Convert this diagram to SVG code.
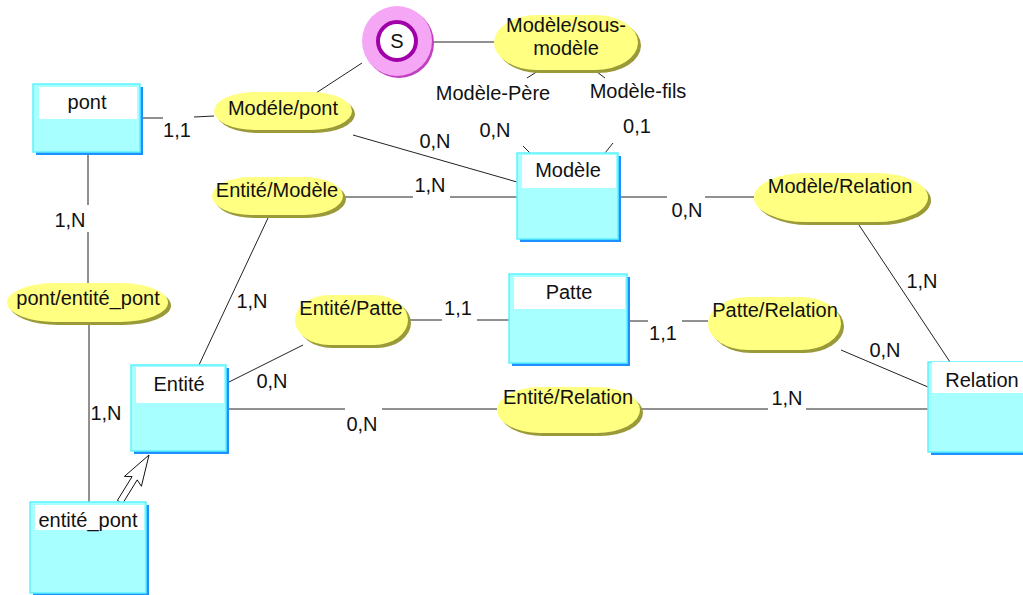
<svg xmlns="http://www.w3.org/2000/svg" width="1023" height="595" viewBox="0 0 1023 595">
<style>
text{font-family:"Liberation Sans",Arial,sans-serif;font-size:20px;fill:#111;text-anchor:middle}
.shadow{fill:#1e90ff}
.box{fill:#a8ffff;stroke:#5ef2ff;stroke-width:1.5}
.title{fill:#ffffff}
.eshadow{fill:#9a9a38}
.ell{fill:#ffff82}
.conn{stroke:#222;stroke-width:1;fill:none}
</style>
<rect width="1023" height="595" fill="#ffffff"/>

<g id="connectors" class="conn">
  <path d="M433,42 H494"/>
  <path d="M362,63 L316,93"/>
  <path d="M538,71 L527,78"/>
  <path d="M597,72 L605,78"/>
  <path d="M523,146 L530,153"/>
  <path d="M613,143 L605,153"/>
  <path d="M141,118 L163,118 M194,117 L214,116"/>
  <path d="M353,135 L517,182"/>
  <path d="M343,197 H413 M450,197 H517"/>
  <path d="M618,197 H667 M705,197 H754"/>
  <path d="M857,222 L950,362"/>
  <path d="M88,152 V205 M88,232 V283"/>
  <path d="M89,322 V502"/>
  <path d="M268,218 L199,365"/>
  <path d="M303,345 L227,383"/>
  <path d="M408,320 H442 M477,320 H509"/>
  <path d="M630,321 H648 M682,321 H708"/>
  <path d="M841,350 L928,387"/>
  <path d="M226,409 H345 M382,409 H497"/>
  <path d="M640,409 H768 M806,409 H928"/>
  <path d="M117.4,500.4 L132.1,476.6 L124.4,476.4 L149,455 L141.4,486.3 L137.2,479.9 L122.6,503.6 Z" fill="#ffffff" stroke="#111" stroke-linejoin="miter"/>
</g>

<g id="labels">
  <text x="177" y="137">1,1</text>
  <text x="435" y="148">0,N</text>
  <text x="430" y="192">1,N</text>
  <text x="687" y="217">0,N</text>
  <text x="922" y="288">1,N</text>
  <text x="70" y="227">1,N</text>
  <text x="106" y="420">1,N</text>
  <text x="252" y="308">1,N</text>
  <text x="272" y="388">0,N</text>
  <text x="458" y="315">1,1</text>
  <text x="663" y="340">1,1</text>
  <text x="885" y="357">0,N</text>
  <text x="362" y="431">0,N</text>
  <text x="787" y="405">1,N</text>
  <text x="495" y="137">0,N</text>
  <text x="637" y="133">0,1</text>
  <text x="493" y="100">Modèle-Père</text>
  <text x="638" y="98">Modèle-fils</text>
</g>

<g id="node-S">
  <circle cx="399" cy="43" r="35" fill="#c040c0"/>
  <circle cx="397" cy="41" r="35" fill="#f5a6f5"/>
  <circle cx="397" cy="41" r="19" fill="#ffffff" stroke="#a000a8" stroke-width="4"/>
  <text x="397" y="48">S</text>
</g>

<g id="rel-modele-sous-modele">
  <rect x="497" y="18" width="144" height="55" rx="43" ry="27.5" class="eshadow"/>
  <rect x="494" y="15" width="144" height="55" rx="43" ry="27.5" class="ell"/>
  <text x="566" y="32">Modèle/sous-</text>
  <text x="566" y="55">modèle</text>
</g>

<g id="rel-modele-pont">
  <rect x="217" y="95" width="138" height="38" rx="41" ry="19" class="eshadow"/>
  <rect x="214" y="92" width="138" height="38" rx="41" ry="19" class="ell"/>
  <text x="283" y="115">Modéle/pont</text>
</g>

<g id="rel-entite-modele">
  <rect x="215" y="180" width="131" height="38" rx="39" ry="19" class="eshadow"/>
  <rect x="212" y="177" width="131" height="38" rx="39" ry="19" class="ell"/>
  <text x="277" y="197">Entité/Modèle</text>
</g>

<g id="rel-pont-entite-pont">
  <rect x="10" y="286" width="161" height="39" rx="48" ry="19.5" class="eshadow"/>
  <rect x="7" y="283" width="161" height="39" rx="48" ry="19.5" class="ell"/>
  <text x="88" y="305">pont/entité_pont</text>
</g>

<g id="rel-entite-patte">
  <rect x="298" y="298" width="113" height="50" rx="34" ry="25" class="eshadow"/>
  <rect x="295" y="295" width="113" height="50" rx="34" ry="25" class="ell"/>
  <text x="351" y="315">Entité/Patte</text>
</g>

<g id="rel-patte-relation">
  <rect x="711" y="300" width="133" height="53" rx="40" ry="26.5" class="eshadow"/>
  <rect x="708" y="297" width="133" height="53" rx="40" ry="26.5" class="ell"/>
  <text x="775" y="317">Patte/Relation</text>
</g>

<g id="rel-modele-relation">
  <rect x="757" y="176" width="174" height="49" rx="52" ry="24.5" class="eshadow"/>
  <rect x="754" y="173" width="174" height="49" rx="52" ry="24.5" class="ell"/>
  <text x="840" y="193">Modèle/Relation</text>
</g>

<g id="rel-entite-relation">
  <rect x="500" y="390" width="143" height="46" rx="43" ry="23" class="eshadow"/>
  <rect x="497" y="387" width="143" height="46" rx="43" ry="23" class="ell"/>
  <text x="568" y="404">Entité/Relation</text>
</g>

<g id="ent-pont">
  <rect x="36" y="87" width="107" height="68" class="shadow"/>
  <rect x="33" y="84" width="107" height="68" class="box"/>
  <rect x="39" y="87" width="98" height="32" class="title"/>
  <text x="87" y="109">pont</text>
</g>

<g id="ent-modele">
  <rect x="520" y="156" width="101" height="86" class="shadow"/>
  <rect x="517" y="153" width="101" height="86" class="box"/>
  <rect x="522" y="155" width="94" height="33" class="title"/>
  <text x="568" y="177">Modèle</text>
</g>

<g id="ent-entite">
  <rect x="134" y="368" width="95" height="86" class="shadow"/>
  <rect x="131" y="365" width="95" height="86" class="box"/>
  <rect x="136" y="367" width="88" height="36" class="title"/>
  <text x="179" y="391">Entité</text>
</g>

<g id="ent-entite-pont">
  <rect x="33" y="505" width="116" height="91" class="shadow"/>
  <rect x="30" y="502" width="116" height="91" class="box"/>
  <rect x="35" y="505" width="109" height="25" class="title"/>
  <text x="88" y="527">entité_pont</text>
</g>

<g id="ent-patte">
  <rect x="512" y="277" width="118" height="89" class="shadow"/>
  <rect x="509" y="274" width="118" height="89" class="box"/>
  <rect x="514" y="277" width="111" height="32" class="title"/>
  <text x="569" y="299">Patte</text>
</g>

<g id="ent-relation">
  <rect x="931" y="365" width="100" height="90" class="shadow"/>
  <rect x="928" y="362" width="100" height="90" class="box"/>
  <rect x="932" y="362" width="95" height="31" class="title"/>
  <text x="982" y="387">Relation</text>
</g>
</svg>
